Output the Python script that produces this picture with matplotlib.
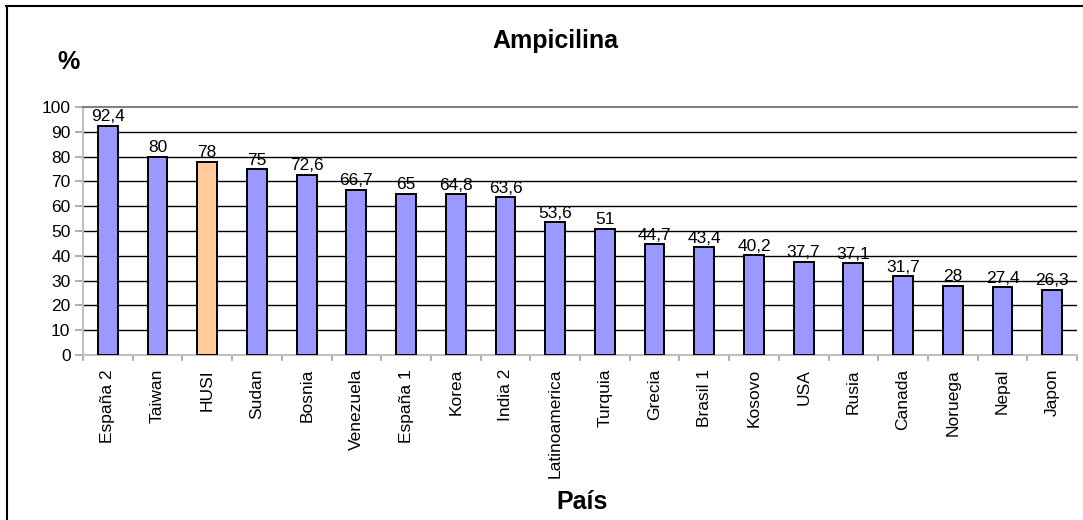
import matplotlib
matplotlib.use("Agg")
import matplotlib.pyplot as plt
from matplotlib.lines import Line2D

paises = ["España 2", "Taiwan", "HUSI", "Sudan", "Bosnia", "Venezuela", "España 1",
          "Korea", "India 2", "Latinoamerica", "Turquia", "Grecia", "Brasil 1",
          "Kosovo", "USA", "Rusia", "Canada", "Noruega", "Nepal", "Japon"]
valores = [92.4, 80, 78, 75, 72.6, 66.7, 65, 64.8, 63.6, 53.6, 51, 44.7, 43.4,
           40.2, 37.7, 37.1, 31.7, 28, 27.4, 26.3]
destacado = "HUSI"
y_ticks = list(range(0, 101, 10))

plt.rcParams["font.family"] = ["Liberation Sans", "DejaVu Sans"]

W, H = 1083, 520
fig = plt.figure(figsize=(W / 100, H / 100), dpi=100)
ax = fig.add_axes([83 / W, 1 - 355 / H, (1077 - 83) / W, (355 - 107) / H])

azul, naranja = "#9999FF", "#FFCC99"
colores = [naranja if p == destacado else azul for p in paises]
x = list(range(len(paises)))

for yv in y_ticks[1:-1]:
    ax.axhline(yv, color="black", lw=1.0, zorder=1)

ax.bar(x, valores, width=0.4, color=colores, edgecolor="black", linewidth=1.4, zorder=3)

fs = 12.5
for xi, v in zip(x, valores):
    txt = f"{v:g}".replace(".", ",")
    ax.text(xi, v + 0.6, txt, ha="center", va="bottom", fontsize=fs, zorder=4)

ax.set_xlim(-0.5, len(paises) - 0.5)
ax.set_ylim(0, 100)
ax.set_yticks(y_ticks)
ax.set_yticklabels([str(t) for t in y_ticks], fontsize=fs)
ax.set_xticks(x)
ax.set_xticklabels(paises, rotation=90, fontsize=fs)
ax.tick_params(axis="x", length=0, pad=10)
ax.tick_params(axis="y", length=6, color="#a0a0a0", width=1.2, pad=3)

# category separator ticks below the axis
for b in range(len(paises) + 1):
    ax.plot([b - 0.5, b - 0.5], [0, -2.2], color="#a0a0a0", lw=1.2,
            clip_on=False, zorder=2)

for side in ["left", "bottom", "top"]:
    ax.spines[side].set_linewidth(1.5)
ax.spines["top"].set_color("#808080")
ax.spines["right"].set_visible(False)
ax.spines["bottom"].set_color("#c0c0c0")
ax.spines["left"].set_color("#c0c0c0")

fig.text(555 / W, 1 - 41 / H, "Ampicilina", ha="center", va="center",
         fontsize=18, fontweight="bold")
fig.text(68 / W, 1 - 62 / H, "%", ha="center", va="center",
         fontsize=18, fontweight="bold")
fig.text(582 / W, 1 - 502 / H, "País", ha="center", va="center",
         fontsize=18, fontweight="bold")

# outer frame
fig.add_artist(Line2D([6 / W, 1], [1 - 5.5 / H, 1 - 5.5 / H], transform=fig.transFigure,
                      color="black", lw=1.5))
fig.add_artist(Line2D([6.5 / W, 6.5 / W], [0, 1 - 5.5 / H], transform=fig.transFigure,
                      color="black", lw=1.5))

fig.savefig("out.png", dpi=100)
